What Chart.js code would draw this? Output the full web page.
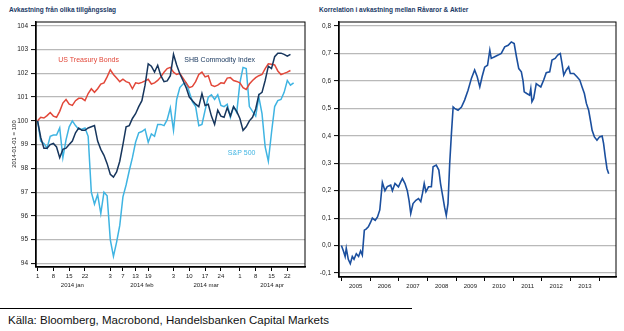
<!DOCTYPE html>
<html>
<head>
<meta charset="utf-8">
<script src="https://cdn.jsdelivr.net/npm/chart.js@4.4.1/dist/chart.umd.min.js"></script>
<style>
  body { margin: 0; width: 624px; height: 331px; background: #fff; position: relative; overflow: hidden;
         font-family: "Liberation Sans", Arial, sans-serif; }
  .title { position: absolute; top: 7px; font-weight: bold; font-size: 6.5px; line-height: 1; color: #1b3a66; white-space: nowrap; }
  #c1 { position: absolute; left: 0; top: 0; }
  #c2 { position: absolute; left: 310px; top: 0; }
  #rule { position: absolute; left: 0; top: 307.5px; width: 412px; border-top: 1.3px solid #000; }
  #src { position: absolute; left: 8px; top: 315px; font-size: 11.5px; line-height: 1; color: #111; white-space: nowrap; }
</style>
</head>
<body>
<div class="title" style="left:9px">Avkastning från olika tillgångsslag</div>
<div class="title" style="left:319px">Korrelation i avkastning mellan Råvaror &amp; Aktier</div>
<canvas id="c1" width="312" height="300"></canvas>
<canvas id="c2" width="314" height="300"></canvas>
<div id="rule"></div>
<div id="src">Källa: Bloomberg, Macrobond, Handelsbanken Capital Markets</div>

<script>
// left chart: business days from 2014-01-01 (index 0)
const dayIdx = [0, 5, 10, 15, 23, 27, 31, 35, 43, 48, 53, 58, 64, 69, 74, 79];
const dayLabels = ['1', '8', '15', '22', '3', '7', '13', '19', '3', '10', '17', '24', '1', '8', '15', '22'];
const monthLabels = ['2014 jan', '2014 feb', '2014 mar', '2014 apr'];
const monthPos = [11, 33, 53.3, 74.2];
const leftTicks = [94, 95, 96, 97, 98, 99, 100, 101, 102, 103, 104];

const treasury = [100.0, 100.15, 100.12, 100.22, 100.35, 100.2, 100.15, 100.4, 100.75, 100.9,
  100.7, 100.65, 100.85, 100.95, 100.95, 100.85, 101.15, 101.35, 101.2, 101.35,
  101.55, 101.6, 101.85, 102.15, 101.95, 101.8, 101.65, 101.75, 101.65, 101.6,
  101.35, 101.6, 101.57, 101.62, 101.68, 101.75, 101.55, 101.6, 101.7, 101.85,
  102.05, 102.2, 102.25, 102.05, 101.95, 102.0, 101.8, 101.6, 101.4, 101.45,
  101.65, 101.95, 102.05, 101.85, 101.9, 101.5, 101.45, 101.5, 101.6, 101.58,
  101.8, 101.82, 101.7, 101.66, 101.6, 101.4, 101.32, 101.55, 101.7, 101.82,
  101.9, 101.95, 102.2, 102.4, 102.38, 102.35, 102.1, 101.95, 102.0, 102.05, 102.12];

const commodity = [100.0, 99.3, 98.85, 98.85, 99.0, 99.05, 98.9, 98.45, 98.8, 98.85,
  99.0, 99.15, 99.5, 99.7, 99.6, 99.6, 99.7, 99.75, 99.8, 99.15,
  98.8, 98.55, 98.2, 97.75, 97.63, 97.85, 98.3, 99.0, 99.75, 99.8,
  100.1, 100.3, 100.6, 100.85, 101.5, 102.4, 102.3, 102.05, 102.34, 101.9,
  101.65, 101.68, 101.9, 102.8, 102.35, 101.98, 101.7, 101.4, 101.0, 100.85,
  100.7, 100.6, 101.15, 100.65, 100.7, 100.2, 99.85, 100.45, 100.2, 100.15,
  100.55, 100.2, 100.6, 100.4, 100.1, 99.6, 99.75, 100.0, 100.15, 100.5,
  101.1, 101.2, 101.7, 102.3, 102.2, 102.7, 102.85, 102.85, 102.8, 102.72, 102.8];

const sp500 = [100.0, 99.15, 99.05, 98.85, 99.35, 99.4, 99.4, 99.7, 98.45, 99.2,
  99.75, 100.0, 99.8, 99.65, 99.65, 99.7, 99.35, 97.0, 96.5, 96.9,
  96.1, 97.0, 96.85, 95.0, 94.3, 94.9, 95.6, 96.8, 97.3, 97.9,
  98.45, 99.1, 99.5, 99.55, 99.65, 99.1, 99.45, 99.35, 99.85, 99.85,
  99.8, 100.05, 100.55, 99.6, 100.9, 101.4, 101.55, 101.6, 101.2, 100.8,
  100.6, 99.8, 99.85, 100.45, 101.0, 101.1, 100.9, 101.1, 100.65, 100.6,
  100.7, 100.15, 100.6, 100.35, 101.6, 102.25, 102.2, 100.6, 100.4, 100.2,
  101.0, 100.3, 98.9, 98.3, 99.5, 100.6, 100.85, 100.9, 101.2, 101.7, 101.5, 101.6];

// right chart: correlation, x in decimal years
const corrYears = [2005.00, 2005.07, 2005.13, 2005.17, 2005.24, 2005.31, 2005.38, 2005.44, 2005.52, 2005.60,
  2005.67, 2005.73, 2005.80, 2005.86, 2005.94, 2006.02, 2006.08, 2006.18, 2006.26, 2006.34,
  2006.43, 2006.52, 2006.60, 2006.72, 2006.78, 2006.87, 2006.99, 2007.07, 2007.13, 2007.22,
  2007.30, 2007.36, 2007.42, 2007.50, 2007.60, 2007.69, 2007.77, 2007.83, 2007.89, 2007.95,
  2008.04, 2008.14, 2008.20, 2008.31, 2008.40, 2008.46, 2008.54, 2008.60, 2008.66, 2008.72,
  2008.78, 2008.84, 2008.90, 2008.95, 2009.07, 2009.19, 2009.30, 2009.42, 2009.54, 2009.65,
  2009.74, 2009.83, 2009.91, 2010.00, 2010.10, 2010.18, 2010.23, 2010.35, 2010.47, 2010.58,
  2010.70, 2010.82, 2010.93, 2011.03, 2011.11, 2011.19, 2011.28, 2011.34, 2011.38, 2011.47,
  2011.57, 2011.61, 2011.65, 2011.71, 2011.80, 2011.88, 2011.96, 2012.06, 2012.15, 2012.27,
  2012.35, 2012.46, 2012.55, 2012.64, 2012.70, 2012.76, 2012.85, 2012.93, 2012.99, 2013.11,
  2013.22, 2013.32, 2013.40, 2013.48, 2013.55, 2013.63, 2013.71, 2013.75, 2013.83, 2013.92,
  2014.01, 2014.10, 2014.15, 2014.21, 2014.27, 2014.33];
const corrValues = [0.00, -0.02, -0.04, -0.01, -0.05, -0.066, -0.04, -0.05, -0.03, -0.04,
  -0.02, -0.035, 0.056, 0.06, 0.068, 0.085, 0.10, 0.092, 0.104, 0.13,
  0.23, 0.20, 0.215, 0.22, 0.20, 0.226, 0.214, 0.232, 0.244, 0.226,
  0.20, 0.165, 0.117, 0.153, 0.165, 0.171, 0.16, 0.19, 0.226, 0.196,
  0.214, 0.214, 0.287, 0.293, 0.275, 0.226, 0.177, 0.14, 0.11, 0.153,
  0.30, 0.408, 0.505, 0.50, 0.493, 0.505, 0.53, 0.566, 0.61, 0.64,
  0.615, 0.578, 0.615, 0.65, 0.657, 0.712, 0.682, 0.688, 0.694, 0.70,
  0.724, 0.73, 0.742, 0.736, 0.688, 0.645, 0.633, 0.60, 0.56, 0.554,
  0.548, 0.572, 0.524, 0.536, 0.59, 0.584, 0.578, 0.603, 0.63, 0.633,
  0.676, 0.682, 0.694, 0.70, 0.663, 0.621, 0.64, 0.651, 0.627, 0.627,
  0.615, 0.603, 0.578, 0.554, 0.518, 0.493, 0.445, 0.42, 0.396, 0.384,
  0.396, 0.399, 0.372, 0.323, 0.28, 0.262];
const yearTicks = [2005, 2006, 2007, 2008, 2009, 2010, 2011, 2012, 2013, 2014];
const yearLabels = ['2005', '2006', '2007', '2008', '2009', '2010', '2011', '2012', '2013', ''];
const rightTicks = [-0.1, 0, 0.1, 0.2, 0.3, 0.4, 0.5, 0.6, 0.7, 0.8];

const FONT = '"Liberation Sans", Arial, sans-serif';
const RED = '#e2483a', NAVY = '#17365d', LIGHT = '#3fb4e2', CORR = '#1b4f9e';

// series name tags placed in data units
const seriesTags = [
  { text: 'US Treasury Bonds', x: 6.5, y: 102.55, color: RED },
  { text: 'SHB Commodity Index', x: 46.4, y: 102.55, color: NAVY },
  { text: 'S&P 500', x: 60.2, y: 98.64, color: LIGHT }
];

function toPoints(xs, ys) {
  return ys.map((v, i) => ({ x: xs ? xs[i] : i, y: v }));
}

function frame(chart) {
  const a = chart.chartArea, ctx = chart.ctx;
  ctx.save();
  ctx.strokeStyle = '#000';
  ctx.lineWidth = 1;
  ctx.strokeRect(a.left, a.top, a.right - a.left, a.bottom - a.top);
  ctx.restore();
}

const leftDecor = {
  id: 'leftDecor',
  afterDraw(chart) {
    frame(chart);
    const ctx = chart.ctx, xs = chart.scales.x, ys = chart.scales.y;
    ctx.save();
    ctx.textBaseline = 'middle';
    ctx.font = '7px ' + FONT;
    seriesTags.forEach(t => {
      ctx.fillStyle = t.color;
      ctx.fillText(t.text, xs.getPixelForValue(t.x), ys.getPixelForValue(t.y));
    });
    ctx.fillStyle = '#222';
    ctx.font = '6px ' + FONT;
    ctx.textAlign = 'center';
    monthLabels.forEach((m, i) => ctx.fillText(m, xs.getPixelForValue(monthPos[i]), 285));
    ctx.translate(14, 144);
    ctx.rotate(-Math.PI / 2);
    ctx.fillText('2014-01-01 = 100', 0, 0);
    ctx.restore();
  }
};

const rightDecor = { id: 'rightDecor', afterDraw: frame };

function yAxis(ticksList, min, max, width, fmt) {
  return {
    type: 'linear', min: min, max: max,
    afterBuildTicks: s => { s.ticks = ticksList.map(v => ({ value: v })); },
    afterFit: s => { s.width = width; },
    grid: { color: '#b9b9b9', lineWidth: 1.2, tickColor: '#000', tickLength: 5, tickWidth: 1 },
    border: { color: '#000', width: 1.5 },
    ticks: { font: { family: FONT, size: 6.5 }, color: '#222', padding: 3, callback: fmt }
  };
}

// dataset 0 is drawn on top
new Chart(document.getElementById('c1'), {
  type: 'line',
  data: {
    datasets: [
      { data: toPoints(null, commodity), borderColor: NAVY, borderWidth: 1.5 },
      { data: toPoints(null, treasury), borderColor: RED, borderWidth: 1.5 },
      { data: toPoints(null, sp500), borderColor: LIGHT, borderWidth: 1.5 }
    ]
  },
  options: {
    responsive: false, animation: false,
    layout: { padding: { top: 22, right: 7, left: 0, bottom: 0 } },
    elements: { point: { radius: 0 }, line: { tension: 0 } },
    plugins: { legend: { display: false }, tooltip: { enabled: false } },
    scales: {
      x: {
        type: 'linear', min: -0.5, max: 84.6,
        afterBuildTicks: s => { s.ticks = dayIdx.map(v => ({ value: v })); },
        afterFit: s => { s.height = 33; },
        grid: { drawOnChartArea: false, tickColor: '#000', tickLength: 4 },
        border: { color: '#000', width: 1.5 },
        ticks: { font: { family: FONT, size: 6 }, color: '#222', padding: 2, maxRotation: 0, autoSkip: false,
                 callback: (v, i) => dayLabels[i] }
      },
      y: yAxis(leftTicks, 93.85, 104.16, 36, v => v)
    }
  },
  plugins: [leftDecor]
});

new Chart(document.getElementById('c2'), {
  type: 'line',
  data: {
    datasets: [
      { data: toPoints(corrYears, corrValues), borderColor: CORR, borderWidth: 1.6 }
    ]
  },
  options: {
    responsive: false, animation: false,
    layout: { padding: { top: 22, right: 8, left: 0, bottom: 0 } },
    elements: { point: { radius: 0 }, line: { tension: 0 } },
    plugins: { legend: { display: false }, tooltip: { enabled: false } },
    scales: {
      x: {
        type: 'linear', min: 2004.916, max: 2014.584,
        afterBuildTicks: s => { s.ticks = yearTicks.map(v => ({ value: v })); },
        afterFit: s => { s.height = 23; },
        grid: { drawOnChartArea: false, tickColor: '#000', tickLength: 4 },
        border: { color: '#000', width: 1.5 },
        ticks: { font: { family: FONT, size: 6 }, color: '#222', padding: 2, maxRotation: 0, autoSkip: false,
                 labelOffset: 14.3, callback: (v, i) => yearLabels[i] }
      },
      y: yAxis(rightTicks, -0.1146, 0.8146, 29, v => v.toFixed(1).replace('.', ','))
    }
  },
  plugins: [rightDecor]
});
</script>
</body>
</html>
